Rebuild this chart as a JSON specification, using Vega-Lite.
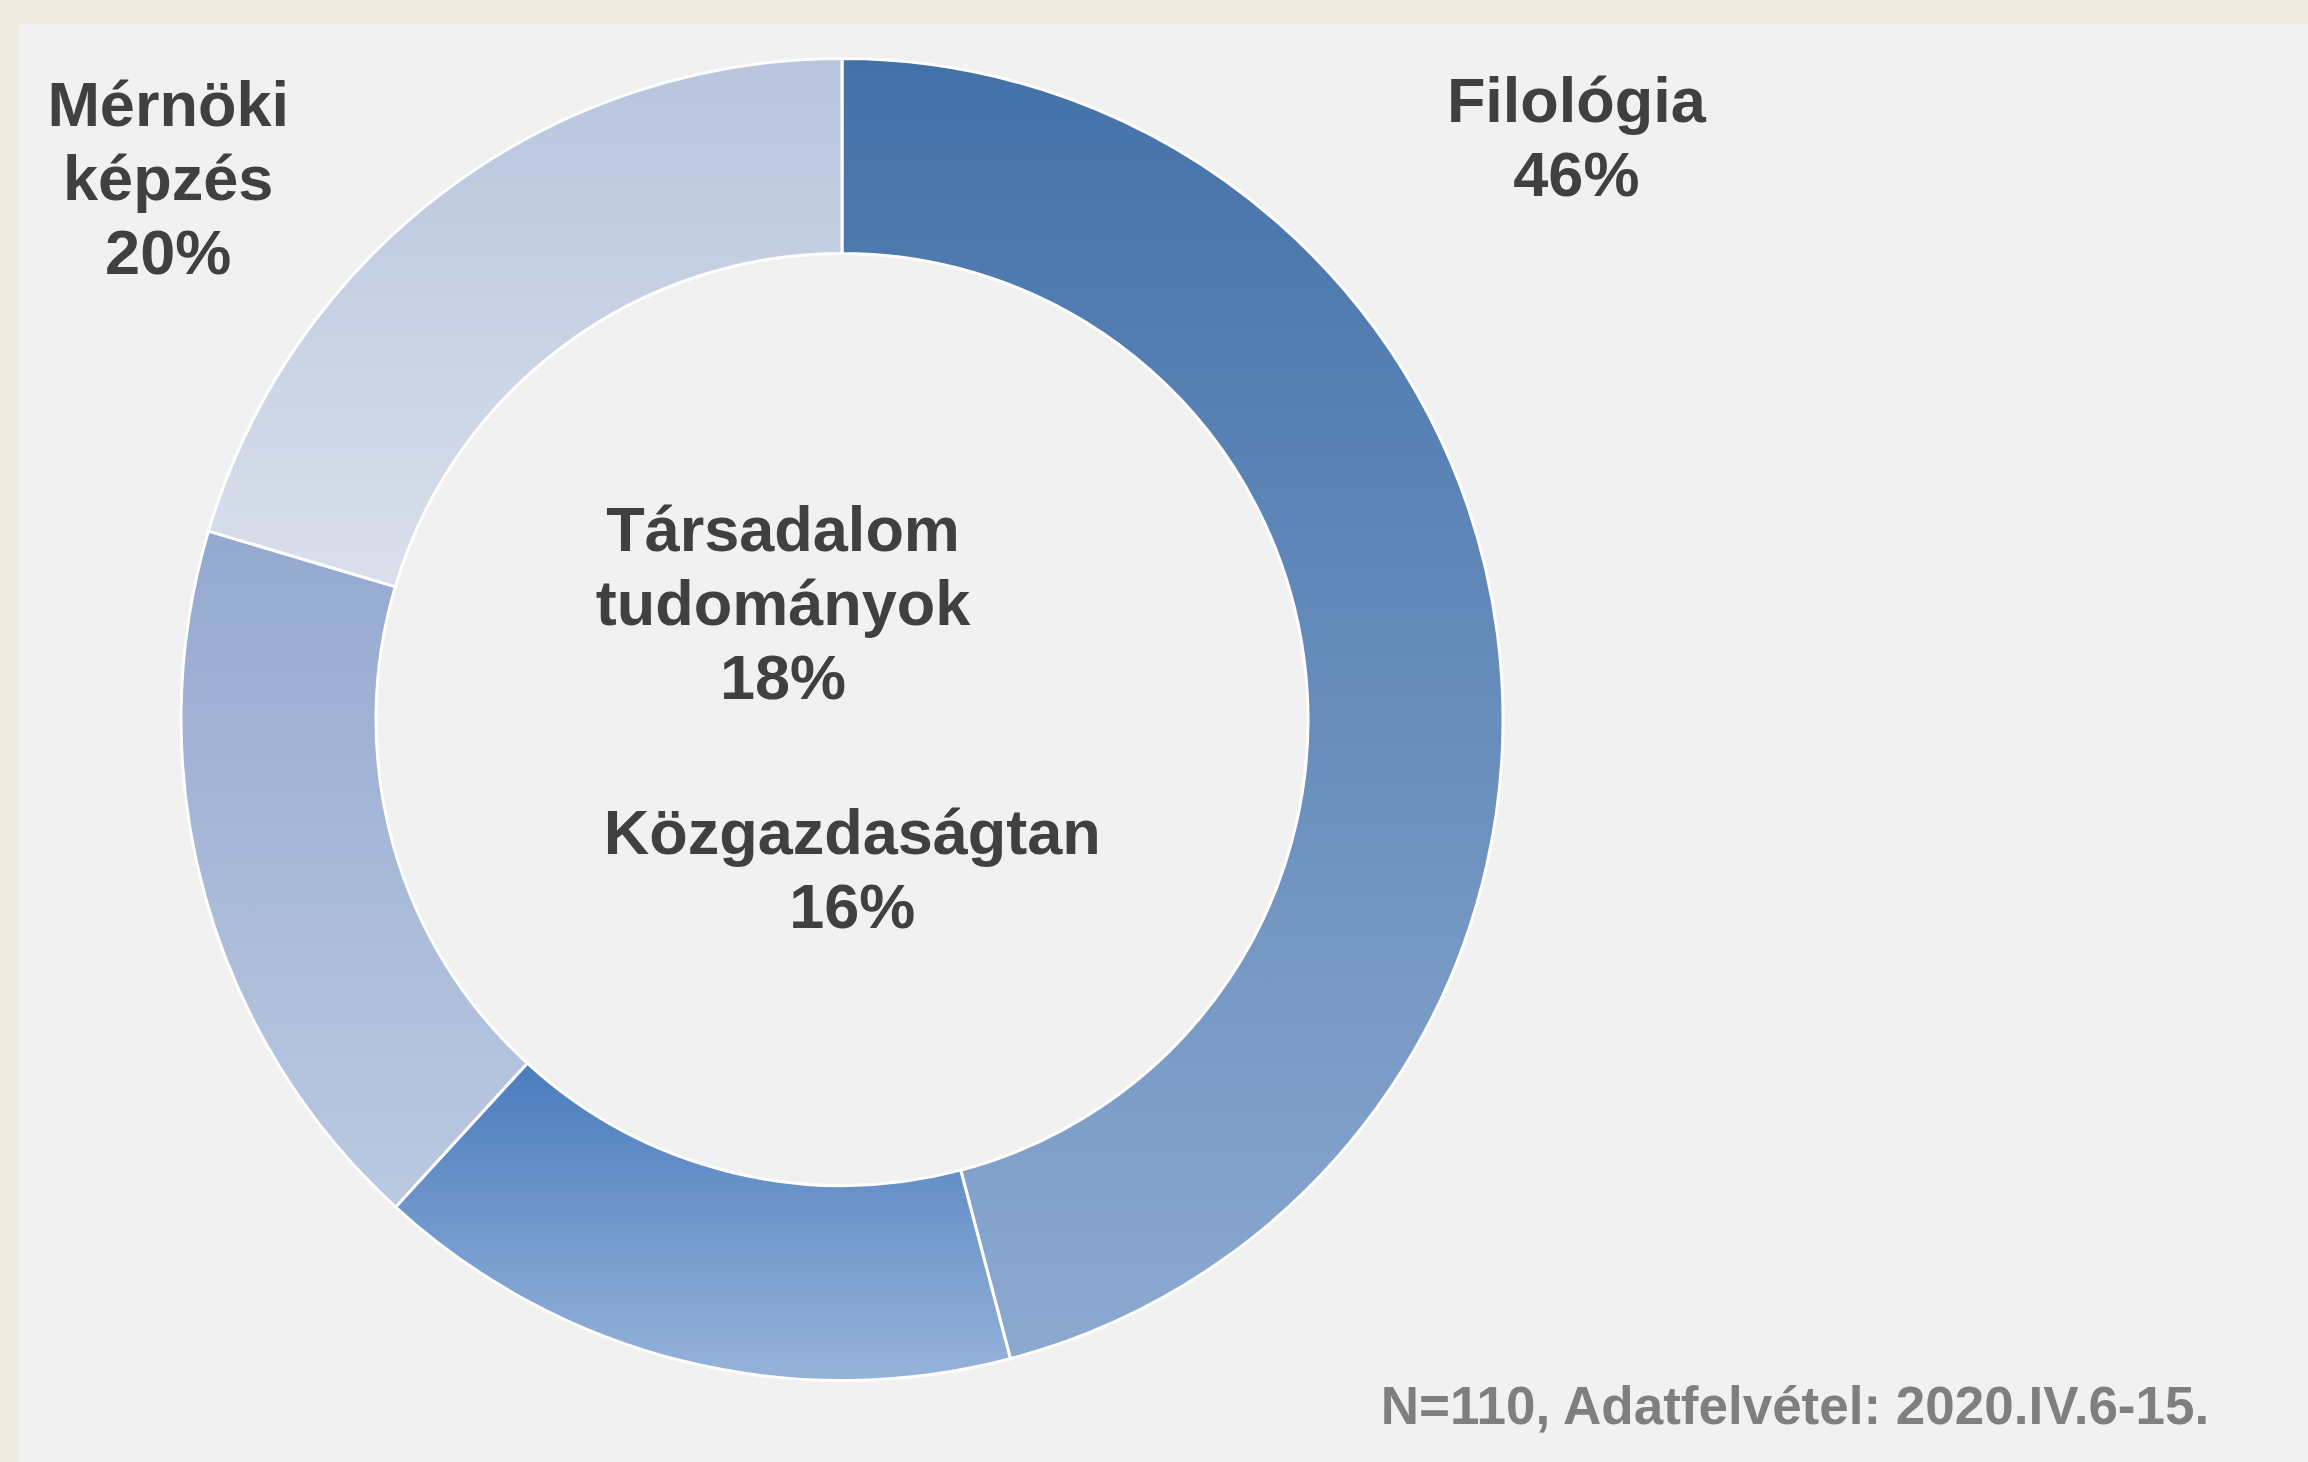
{
  "$schema": "https://vega.github.io/schema/vega-lite/v6.json",
  "background": "#F1F1F1",
  "padding": 0,
  "bounds": "flush",
  "spacing": 0,
  "columns": 2,
  "align": "each",
  "config": {
    "view": {"stroke": null},
    "concat": {"spacing": 0},
    "text": {"font": "Liberation Sans"}
  },
  "datasets": {
    "shares": [
      {"category": "Filológia", "value": 45.9},
      {"category": "Közgazdaságtan", "value": 15.9},
      {"category": "Társadalom tudományok", "value": 17.8},
      {"category": "Mérnöki képzés", "value": 20.4}
    ],
    "note": [
      {"text": "N=110, Adatfelvétel: 2020.IV.6-15."}
    ],
    "blank": [
      {"text": ""}
    ]
  },
  "concat": [
    {
      "width": 19,
      "height": 24,
      "view": {"fill": "#EEECE1", "stroke": "#EEECE1", "strokeWidth": 0},
      "data": {"name": "blank"},
      "mark": {"type": "text", "opacity": 0},
      "encoding": {"text": {"field": "text"}}
    },
    {
      "width": 2289,
      "height": 24,
      "view": {"fill": "#EEECE1", "stroke": "#EEECE1", "strokeWidth": 0},
      "data": {"name": "blank"},
      "mark": {"type": "text", "opacity": 0},
      "encoding": {"text": {"field": "text"}}
    },
    {
      "width": 19,
      "height": 1438,
      "view": {"fill": "#EEECE1", "stroke": "#EEECE1", "strokeWidth": 0},
      "data": {"name": "blank"},
      "mark": {"type": "text", "opacity": 0},
      "encoding": {"text": {"field": "text"}}
    },
    {
      "width": 1646,
      "height": 1391,
      "data": {"name": "shares"},
      "transform": [
        {"stack": "value", "groupby": [], "as": ["v0", "v1"]},
        {"calculate": "(datum.v0 + datum.v1) / 2", "as": "mid"},
        {"calculate": "datum.category + ' ' + format(datum.value, '.0f') + '%'", "as": "label"}
      ],
      "layer": [
        {
          "transform": [{"filter": "datum.category === 'Filológia'"}],
          "mark": {"type": "arc", "radius": 661, "radius2": 466, "stroke": "white", "strokeWidth": 3,
            "fill": {"gradient": "linear", "x1": 0, "y1": 0, "x2": 0, "y2": 1,
              "stops": [{"offset": 0, "color": "#4371A8"}, {"offset": 1, "color": "#8CA9D0"}]}},
          "encoding": {
            "theta": {"field": "v0", "type": "quantitative", "scale": {"domain": [0, 100]}},
            "theta2": {"field": "v1"}
          }
        },
        {
          "transform": [{"filter": "datum.category === 'Közgazdaságtan'"}],
          "mark": {"type": "arc", "radius": 661, "radius2": 466, "stroke": "white", "strokeWidth": 3,
            "fill": {"gradient": "linear", "x1": 0, "y1": 0, "x2": 0, "y2": 1,
              "stops": [{"offset": 0, "color": "#4A7CBD"}, {"offset": 1, "color": "#97B3DA"}]}},
          "encoding": {
            "theta": {"field": "v0", "type": "quantitative"},
            "theta2": {"field": "v1"}
          }
        },
        {
          "transform": [{"filter": "datum.category === 'Társadalom tudományok'"}],
          "mark": {"type": "arc", "radius": 661, "radius2": 466, "stroke": "white", "strokeWidth": 3,
            "fill": {"gradient": "linear", "x1": 0, "y1": 0, "x2": 0, "y2": 1,
              "stops": [{"offset": 0, "color": "#95A9D0"}, {"offset": 1, "color": "#BBC9E1"}]}},
          "encoding": {
            "theta": {"field": "v0", "type": "quantitative"},
            "theta2": {"field": "v1"}
          }
        },
        {
          "transform": [{"filter": "datum.category === 'Mérnöki képzés'"}],
          "mark": {"type": "arc", "radius": 661, "radius2": 466, "stroke": "white", "strokeWidth": 3,
            "fill": {"gradient": "linear", "x1": 0, "y1": 0, "x2": 0, "y2": 1,
              "stops": [{"offset": 0, "color": "#B8C5DD"}, {"offset": 1, "color": "#D9DFEB"}]}},
          "encoding": {
            "theta": {"field": "v0", "type": "quantitative"},
            "theta2": {"field": "v1"}
          }
        },
        {
          "transform": [{"filter": "datum.category === 'Filológia'"}],
          "mark": {"type": "text", "radius": 801, "dx": -60, "dy": -514, "lineBreak": " ",
            "fontSize": 63, "lineHeight": 74, "fontWeight": "bold", "color": "#404040", "align": "center", "baseline": "middle"},
          "encoding": {
            "theta": {"field": "mid", "type": "quantitative"},
            "text": {"field": "label"}
          }
        },
        {
          "transform": [{"filter": "datum.category === 'Közgazdaságtan'"}],
          "mark": {"type": "text", "radius": 145, "dx": 45, "dy": -25, "lineBreak": " ",
            "fontSize": 63, "lineHeight": 74, "fontWeight": "bold", "color": "#404040", "align": "center", "baseline": "middle"},
          "encoding": {
            "theta": {"field": "mid", "type": "quantitative"},
            "text": {"field": "label"}
          }
        },
        {
          "transform": [{"filter": "datum.category === 'Társadalom tudományok'"}],
          "mark": {"type": "text", "radius": 29, "dx": -31, "dy": -195, "lineBreak": " ",
            "fontSize": 63, "lineHeight": 74, "fontWeight": "bold", "color": "#404040", "align": "center", "baseline": "middle"},
          "encoding": {
            "theta": {"field": "mid", "type": "quantitative"},
            "text": {"field": "label"}
          }
        },
        {
          "transform": [{"filter": "datum.category === 'Mérnöki képzés'"}],
          "mark": {"type": "text", "radius": 831, "dx": -177, "dy": 54, "lineBreak": " ",
            "fontSize": 63, "lineHeight": 74, "fontWeight": "bold", "color": "#404040", "align": "center", "baseline": "middle"},
          "encoding": {
            "theta": {"field": "mid", "type": "quantitative"},
            "text": {"field": "label"}
          }
        },
        {
          "data": {"name": "note"},
          "mark": {"type": "text", "dx": 953, "dy": 688, "fontSize": 53, "fontWeight": "bold",
            "color": "#7F7F7F", "align": "center", "baseline": "middle"},
          "encoding": {
            "text": {"field": "text"}
          }
        }
      ]
    }
  ]
}
